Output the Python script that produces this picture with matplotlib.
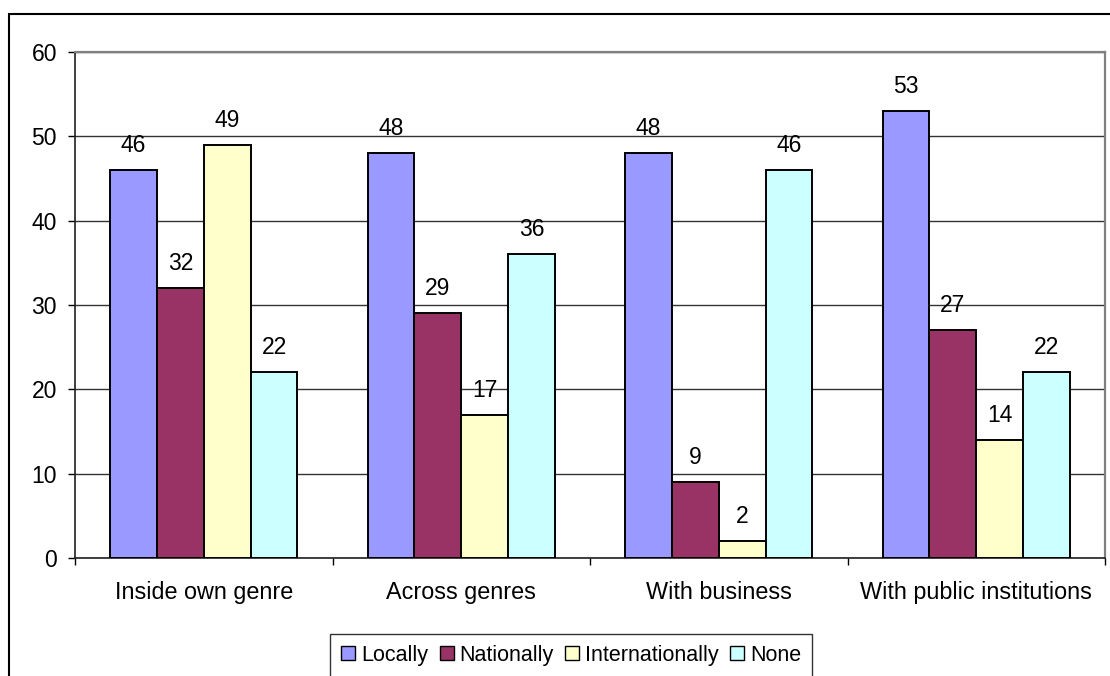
import matplotlib
matplotlib.use("Agg")
import matplotlib.pyplot as plt
import numpy as np
from matplotlib.patches import Rectangle
from matplotlib.lines import Line2D

categories = ["Inside own genre", "Across genres", "With business", "With public institutions"]
series_names = ["Locally", "Nationally", "Internationally", "None"]
locally = [46, 48, 48, 53]
nationally = [32, 29, 9, 27]
internationally = [49, 17, 2, 14]
none_vals = [22, 36, 46, 22]
y_ticks = [0, 10, 20, 30, 40, 50, 60]

series = [locally, nationally, internationally, none_vals]
colors = ["#9999FF", "#993366", "#FFFFCC", "#CCFFFF"]

plt.rcParams['font.family'] = ['Liberation Sans', 'DejaVu Sans']

fig = plt.figure(figsize=(11.10, 6.76), dpi=100)
W, H = 1110, 676
ax = fig.add_axes([75 / W, 1 - 558 / H, (1105 - 75) / W, (558 - 52) / H])

x = np.arange(len(categories))
bw = 0.182
offsets = (np.arange(4) - 1.5) * bw
for vals, off, c, name in zip(series, offsets, colors, series_names):
    ax.bar(x + off, vals, bw, color=c, edgecolor="black", linewidth=1.4, label=name, zorder=3)
    for xi, v in zip(x + off, vals):
        ax.annotate(str(v), (xi, v), xytext=(0, 13), textcoords="offset points",
                    ha="center", va="baseline", fontsize=16.5, zorder=4)

ax.set_xlim(-0.5, 3.5)
ax.set_ylim(0, 60)
ax.set_yticks(y_ticks)
ax.set_yticklabels([str(t) for t in y_ticks], fontsize=16.5)
ax.yaxis.grid(True, color="#333333", linewidth=1.0, zorder=0)
ax.set_axisbelow(True)
ax.tick_params(axis="y", direction="out", length=5, width=1, pad=8, colors="black")

ax.set_xticks(x)
ax.set_xticklabels(categories, fontsize=16.8)
ax.set_xticks(np.arange(-0.5, 4.0, 1.0), minor=True)
ax.tick_params(axis="x", which="major", length=0, pad=16.5)
ax.tick_params(axis="x", which="minor", direction="out", length=5, width=1)

for s in ["top", "right"]:
    ax.spines[s].set_color("#808080")
    ax.spines[s].set_linewidth(1.6)
for s in ["left", "bottom"]:
    ax.spines[s].set_color("#202020")
    ax.spines[s].set_linewidth(1.2)

# outer chart border (right and bottom edges fall outside the image)
fig.patches.append(Rectangle((9 / W, -0.2), 1.2, 1 - 14 / H + 0.2,
                             transform=fig.transFigure, fill=False,
                             edgecolor="black", linewidth=1.5))

handles = [Line2D([], [], linestyle="none", marker="s", markersize=10,
                  markerfacecolor=c, markeredgecolor="black", markeredgewidth=1.0)
           for c in colors]
leg = fig.legend(handles, series_names, loc="upper center",
                 bbox_to_anchor=(571 / W, 1 - 634 / H), ncol=4, fontsize=15.5,
                 frameon=True, fancybox=False, edgecolor="black",
                 handlelength=0.7, handletextpad=0.25, columnspacing=0.5,
                 borderpad=0.5, borderaxespad=0)
leg.get_frame().set_linewidth(1.0)

fig.savefig("out.png", dpi=100)
